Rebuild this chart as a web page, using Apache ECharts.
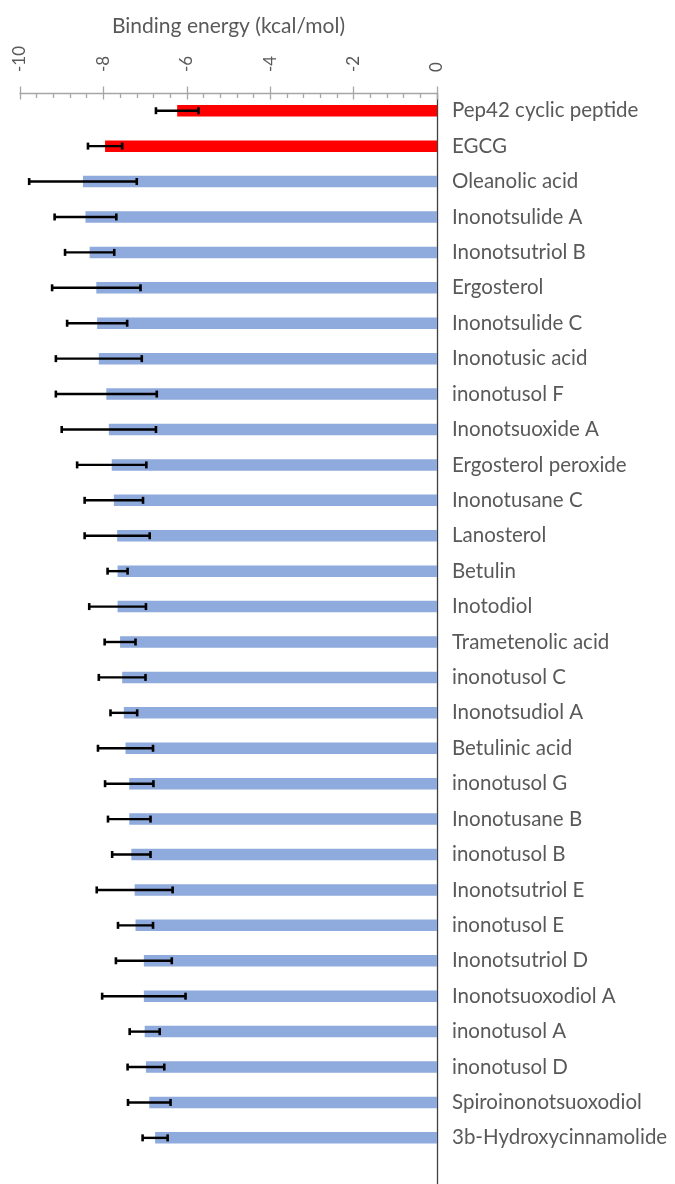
<!DOCTYPE html>
<html>
<head>
<meta charset="utf-8">
<script src="https://cdn.jsdelivr.net/npm/echarts@6/dist/echarts.min.js"></script>
<style>
  html, body { margin: 0; padding: 0; background: #ffffff; }
  #chart { width: 675px; height: 1184px; }
</style>
</head>
<body>
<div id="chart"></div>
<script>
// Compounds, top to bottom
const compounds = [
  'Pep42 cyclic peptide', 'EGCG', 'Oleanolic acid', 'Inonotsulide A',
  'Inonotsutriol B', 'Ergosterol', 'Inonotsulide C', 'Inonotusic acid',
  'inonotusol F', 'Inonotsuoxide A', 'Ergosterol peroxide', 'Inonotusane C',
  'Lanosterol', 'Betulin', 'Inotodiol', 'Trametenolic acid', 'inonotusol C',
  'Inonotsudiol A', 'Betulinic acid', 'inonotusol G', 'Inonotusane B',
  'inonotusol B', 'Inonotsutriol E', 'inonotusol E', 'Inonotsutriol D',
  'Inonotsuoxodiol A', 'inonotusol A', 'inonotusol D', 'Spiroinonotsuoxodiol',
  '3b-Hydroxycinnamolide'
];

// Mean binding energy (kcal/mol)
const energy = [
  -6.23, -7.96, -8.49, -8.43, -8.33, -8.17, -8.15, -8.11, -7.93, -7.87,
  -7.80, -7.75, -7.67, -7.66, -7.66, -7.60, -7.55, -7.51, -7.47, -7.38,
  -7.38, -7.33, -7.25, -7.23, -7.03, -7.03, -7.01, -6.98, -6.90, -6.76
];

// Standard deviation
const sd = [
  0.51, 0.41, 1.29, 0.74, 0.59, 1.06, 0.72, 1.03, 1.21, 1.13,
  0.83, 0.70, 0.78, 0.24, 0.68, 0.37, 0.56, 0.32, 0.66, 0.58,
  0.51, 0.46, 0.91, 0.42, 0.67, 1.00, 0.36, 0.44, 0.51, 0.30
];

// Reference compounds drawn in red
const referenceCount = 2;

const axisTicks = { min: -10, max: 0, interval: 2 };

const FONT = 'Lato';
const TEXT = '#595959';
const BLUE = '#8faadc';
const RED = '#ff0000';
const AXIS_GREY = '#a6a6a6';

const barData = energy.map((v, i) => ({
  value: v,
  itemStyle: { color: i < referenceCount ? RED : BLUE }
}));

const errData = energy.map((v, i) => [i, v - sd[i], v + sd[i]]);

function renderError(params, api) {
  const idx = api.value(0);
  const lo = api.coord([api.value(1), idx]);
  const hi = api.coord([api.value(2), idx]);
  const cap = 3.5;
  const style = { stroke: '#000000', lineWidth: 2.4 };
  const capStyle = { stroke: '#000000', lineWidth: 2.6 };
  return {
    type: 'group',
    children: [
      { type: 'line', shape: { x1: lo[0], y1: lo[1], x2: hi[0], y2: hi[1] }, style },
      { type: 'line', shape: { x1: lo[0], y1: lo[1] - cap, x2: lo[0], y2: lo[1] + cap }, style: capStyle },
      { type: 'line', shape: { x1: hi[0], y1: hi[1] - cap, x2: hi[0], y2: hi[1] + cap }, style: capStyle }
    ]
  };
}

const chart = echarts.init(document.getElementById('chart'), null, { renderer: 'canvas' });

chart.setOption({
  backgroundColor: '#ffffff',
  animation: false,
  // one empty band below the last compound lets the axis line run off the bottom edge
  grid: {
    left: 20, width: 417, top: 93, height: 1098,
    containLabel: false,
    outerBoundsMode: 'none'
  },
  xAxis: [
    {
      type: 'value',
      position: 'top',
      min: axisTicks.min,
      max: axisTicks.max,
      interval: axisTicks.interval,
      name: 'Binding energy (kcal/mol)',
      nameLocation: 'middle',
      nameGap: 56,
      nameTextStyle: { fontFamily: FONT, fontSize: 21, color: TEXT },
      axisLine: { show: true, lineStyle: { color: AXIS_GREY, width: 1.3 } },
      axisTick: { show: true, inside: true, length: 6.5, lineStyle: { color: AXIS_GREY, width: 1.3 } },
      minorTick: { show: true, splitNumber: 5, length: 5, lineStyle: { color: AXIS_GREY, width: 1.3 } },
      axisLabel: {
        rotate: -90,
        margin: 21,
        fontFamily: FONT,
        fontSize: 17,
        color: TEXT
      },
      splitLine: { show: false }
    },
    {
      // upper half of the major tick marks
      type: 'value',
      position: 'top',
      min: axisTicks.min,
      max: axisTicks.max,
      interval: axisTicks.interval,
      axisLine: { show: false },
      axisTick: { show: true, inside: false, length: 6.5, lineStyle: { color: AXIS_GREY, width: 1.3 } },
      axisLabel: { show: false },
      splitLine: { show: false }
    }
  ],
  yAxis: {
    type: 'category',
    data: compounds,
    inverse: true,
    position: 'right',
    max: compounds.length,
    axisLine: { show: true, lineStyle: { color: '#404040', width: 1.3 } },
    axisTick: { show: false },
    axisLabel: {
      margin: 15,
      fontFamily: FONT,
      fontSize: 20.5,
      color: TEXT
    },
    splitLine: { show: false }
  },
  series: [
    {
      type: 'bar',
      data: barData,
      barWidth: 11.5,
      xAxisIndex: 0
    },
    {
      type: 'custom',
      data: errData,
      xAxisIndex: 0,
      renderItem: renderError,
      encode: { x: [1, 2], y: 0 },
      z: 5
    }
  ]
});
</script>
</body>
</html>
